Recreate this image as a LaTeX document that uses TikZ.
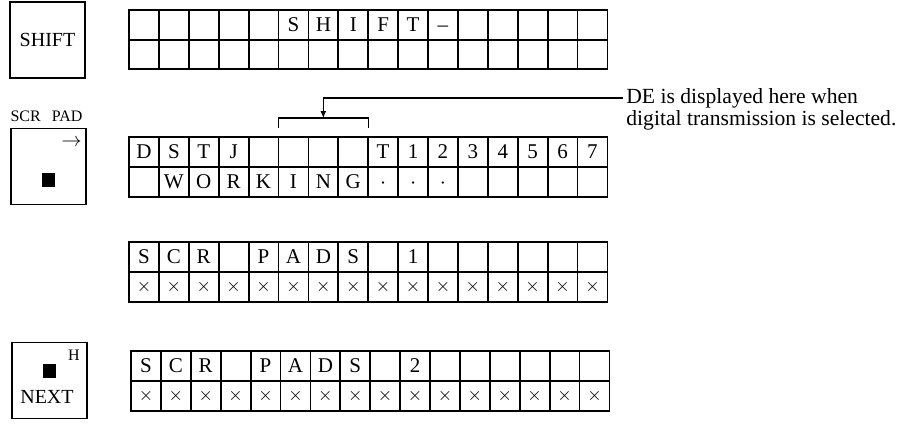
\documentclass[tikz,border=0pt]{standalone}
\usepackage{fontspec}
\setmainfont{Liberation Serif}
\usepackage{tikz}
\usetikzlibrary{arrows.meta,positioning}
\newcommand{\lcdrow}[4]{\foreach \lcdch [count=\i] in {#4} \node[cell,chr] (#1-\i) at ({#2+(\i-0.5)*29.9},#3) {\lcdch};}
\newcommand{\lcdcross}[3]{\foreach \i in {1,...,16} \node[cell,font=\fontsize{9.5}{10}\selectfont] (#1-\i) at ({#2+(\i-0.5)*29.9},#3) {$\times$};}

\begin{document}
\begin{tikzpicture}[x=0.5pt,y=-0.5pt,
  cell/.style={draw,line width=0.9pt,minimum width=14.95pt,minimum height=14.9pt,inner sep=0pt,outer sep=0pt},
  chr/.style={text height=7pt,text depth=0pt,font=\fontsize{10.5}{12}\selectfont},
  key/.style={draw,line width=0.9pt,minimum width=37.5pt,minimum height=38pt,inner sep=0pt,outer sep=0pt,font=\fontsize{10}{12}\selectfont},
  blob/.style={fill=black,minimum size=6.75pt,inner sep=0pt},
  tiny/.style={inner sep=0pt,font=\fontsize{8}{9}\selectfont},
  note/.style={inner sep=1.5pt,anchor=west,font=\fontsize{10.8}{13}\selectfont},
  ptr/.style={line width=0.6pt,-{Latex[length=3.5pt,width=3pt]}}]
\useasboundingbox (0,0) rectangle (901,426);
\node[key] (shiftkey) at (47.5,40) {SHIFT};
\node[key] (padkey) at (48.5,166.5) {};
\node[tiny,above=3pt of padkey,xshift=-1pt] (padlab) {SCR\hspace{0.7em}PAD};
\node[tiny,anchor=east,font=\fontsize{10}{10}\selectfont] (padarr) at ([xshift=-2pt,yshift=-7pt]padkey.north east) {$\rightarrow$};
\node[blob] (padsq) at ([yshift=-6.75pt]padkey.center) {};
\node[key] (nextkey) at (49.5,380.5) {};
\node[tiny,anchor=north east] (nexth) at ([xshift=-3.5pt,yshift=-3.5pt]nextkey.north east) {H};
\node[blob] (nextsq) at ([yshift=4.75pt]nextkey.center) {};
\node[inner sep=0pt,font=\fontsize{10}{12}\selectfont] (nextlab) at ([xshift=-1.25pt,yshift=-8.25pt]nextkey.center) {NEXT};
\lcdrow{sa}{129}{24.75}{{},{},{},{},{},S,H,I,F,T,–,{},{},{},{},{}}
\foreach \i in {1,...,16} \node[cell] (sb-\i) at ({129+(\i-0.5)*29.9},54.5) {};
\lcdrow{da}{129}{152}{D,S,T,J,{},{},{},{},T,1,2,3,4,5,6,7}
\lcdrow{db}{129}{182}{{},W,O,R,K,I,N,G,$\cdot$,$\cdot$,$\cdot$,{},{},{},{},{}}
\lcdrow{pa}{129}{257}{S,C,R,{},P,A,D,S,{},1,{},{},{},{},{},{}}
\lcdcross{pb}{129}{287}
\lcdrow{qa}{131}{366}{S,C,R,{},P,A,D,S,{},2,{},{},{},{},{},{}}
\lcdcross{qb}{131}{396}
\draw[line width=0.6pt] ([yshift=4.5pt]da-6.north west) |- ([yshift=9.5pt]da-7.north) -| ([yshift=4.5pt]da-8.north east);
\coordinate (brtop) at ([yshift=9.5pt]da-7.north);
\node[note] (note1) at (623,98) {DE is displayed here when};
\node[note] (note2) at (623,120) {digital transmission is selected.};
\draw[ptr] (note1.west) -| (brtop);
\end{tikzpicture}
\end{document}
